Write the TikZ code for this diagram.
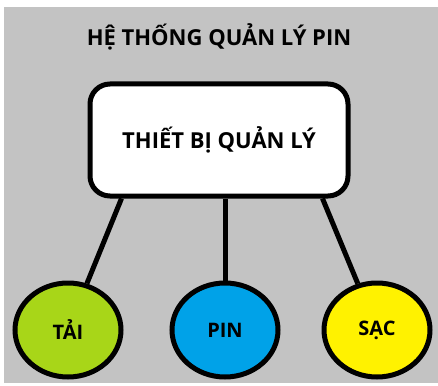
\documentclass[tikz,border=0pt]{standalone}
\usepackage{fontspec}
\setmainfont{Open Sans}
\definecolor{bggray}{RGB}{195,195,195}
\definecolor{taigreen}{RGB}{168,214,24}
\definecolor{pinblue}{RGB}{0,162,232}
\definecolor{sacyellow}{RGB}{255,242,0}
\tikzset{
  box/.style={draw=black, line width=5pt, fill=white, rounded corners=20pt, minimum width=258pt, minimum height=112pt},
  leaf/.style={draw=black, line width=5pt, ellipse, minimum width=106pt, minimum height=94pt, font=\fontsize{20}{24}\selectfont\bfseries},
  conn/.style={line width=5pt},
}
\usetikzlibrary{shapes.geometric}
\begin{document}
\begin{tikzpicture}[x=1pt,y=-1pt]
\useasboundingbox (0,0) rectangle (438,385);
\fill[white] (0,0) rectangle (438,385);
\fill[bggray] (4,7) rectangle (438,383);
\node[font=\fontsize{22}{26}\selectfont\bfseries] (title) at (219,37) {HỆ THỐNG QUẢN LÝ PIN};
\node[box, font=\fontsize{22}{26}\selectfont\bfseries] (mgr) at (219,140) {THIẾT BỊ QUẢN LÝ};
\node[leaf, fill=taigreen] (tai) at (68,330) {TẢI};
\node[leaf, fill=pinblue] (pin) at (225,330) {PIN};
\node[leaf, fill=sacyellow] (sac) at (377,330) {SẠC};
\draw[conn] (mgr.south west)++(34,0) coordinate (a) -- (tai);
\draw[conn] (mgr.south -| pin) -- (pin);
\draw[conn] (mgr.south east)++(-28,0) coordinate (b) -- (sac);
\end{tikzpicture}
\end{document}
